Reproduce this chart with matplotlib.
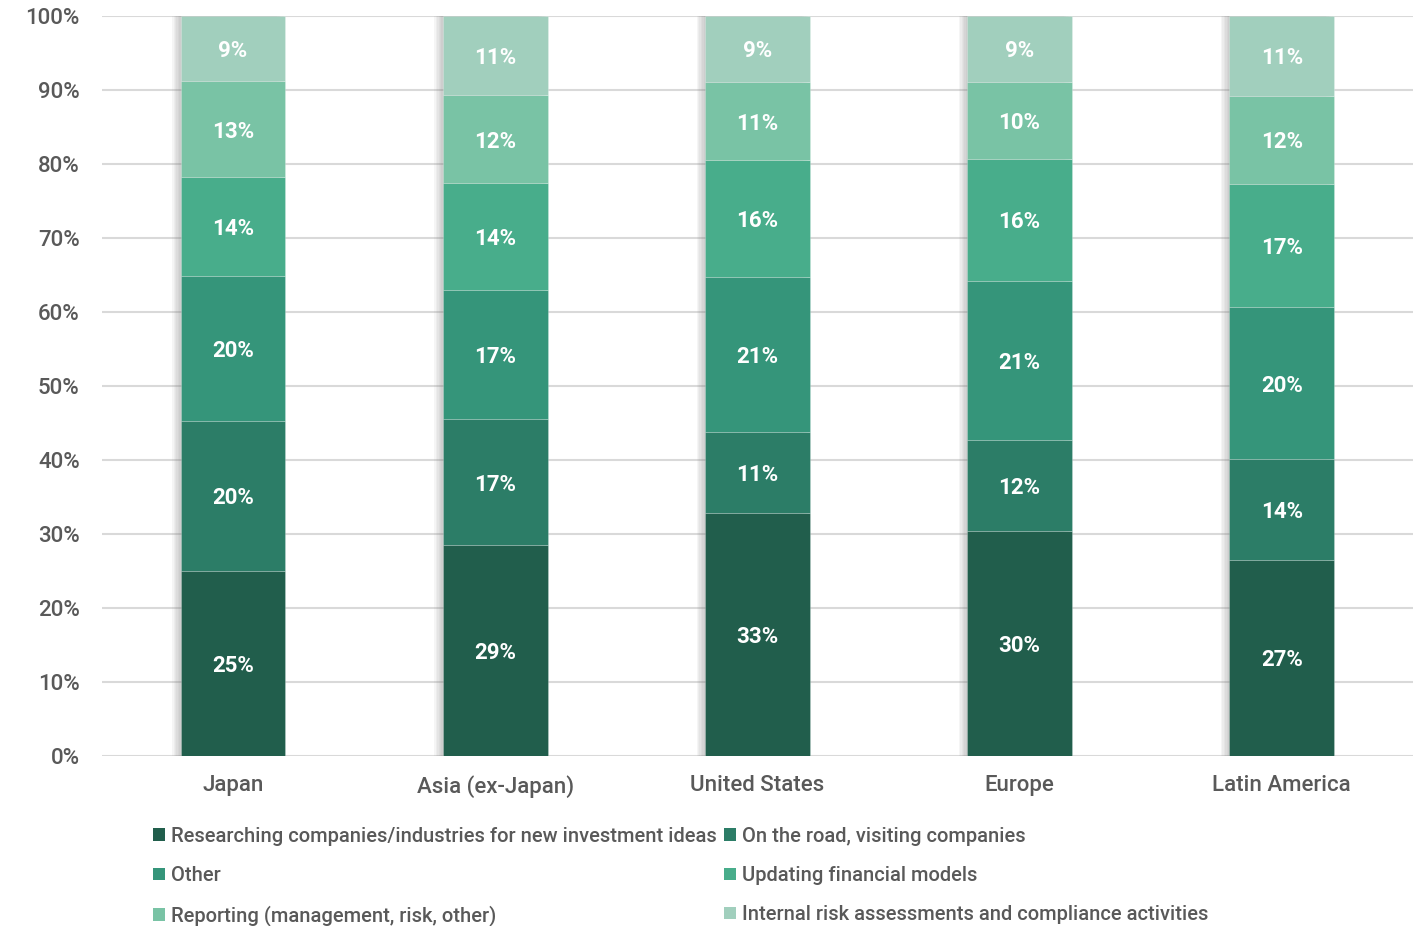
import matplotlib.pyplot as plt
import matplotlib.patheffects as pe
import numpy as np

regions = ['Japan', 'Asia (ex-Japan)', 'United States', 'Europe', 'Latin America']

series_names = [
    'Researching companies/industries for new investment ideas',
    'On the road, visiting companies',
    'Other',
    'Updating financial models',
    'Reporting (management, risk, other)',
    'Internal risk assessments and compliance activities',
]

# segment heights (bottom -> top)
researching = [25.0, 28.5, 32.8, 30.4, 26.5]
on_the_road = [20.3, 17.0, 11.0, 12.3, 13.6]
other       = [19.6, 17.5, 20.9, 21.5, 20.6]
updating    = [13.3, 14.4, 15.8, 16.5, 16.6]
reporting   = [13.0, 11.9, 10.6, 10.4, 11.9]
internal    = [8.8, 10.7, 8.9, 8.9, 10.8]

# printed labels
labels = [
    ['25%', '29%', '33%', '30%', '27%'],
    ['20%', '17%', '11%', '12%', '14%'],
    ['20%', '17%', '21%', '21%', '20%'],
    ['14%', '14%', '16%', '16%', '17%'],
    ['13%', '12%', '11%', '10%', '12%'],
    ['9%', '11%', '9%', '9%', '11%'],
]

colors = ['#215E4C', '#2C7D67', '#35957A', '#48AD8B', '#79C3A5', '#A1CFBD']
text_grey = '#595959'

plt.rcParams['font.family'] = ['Roboto', 'DejaVu Sans']

fig = plt.figure(figsize=(14.2, 9.26), dpi=100)
ax = fig.add_axes([0.0718, 0.1836, 0.9232, 0.7991])

x = np.arange(len(regions))
data = [researching, on_the_road, other, updating, reporting, internal]
bottom = np.zeros(len(regions))
handles = []

# soft shadow on the left side of each bar
shadow = [pe.SimplePatchShadow(offset=(-k, 0), shadow_rgbFace='#7f7f7f', alpha=0.07)
          for k in range(1, 7)] + [pe.Normal()]

for i, vals in enumerate(data):
    vals = np.array(vals)
    bars = ax.bar(x, vals, bottom=bottom, width=0.4, color=colors[i],
                  edgecolor=(1, 1, 1, 0.25), linewidth=0.6, zorder=3,
                  label=series_names[i])
    for b in bars:
        b.set_path_effects(shadow)
    handles.append(bars)
    for j in range(len(regions)):
        ax.text(x[j], bottom[j] + vals[j] / 2, labels[i][j], ha='center',
                va='center_baseline', color='white', fontsize=16,
                fontweight='bold', zorder=4)
    bottom += vals

ax.set_xlim(-0.5, 4.5)
ax.set_ylim(0, 100)
ax.set_yticks(np.arange(0, 101, 10))
ax.set_yticklabels([f'{v}%' for v in range(0, 101, 10)])
ax.set_xticks(x)
ax.set_xticklabels(regions)
ax.yaxis.grid(True, color='#D9D9D9', linewidth=1.5, zorder=0)
ax.set_axisbelow(True)
for s in ax.spines.values():
    s.set_visible(False)
ax.tick_params(axis='both', length=0, labelsize=16, labelcolor=text_grey)
ax.tick_params(axis='x', pad=14)
ax.tick_params(axis='y', pad=16)
for t in ax.get_xticklabels() + ax.get_yticklabels():
    t.set_fontweight('medium')

order = [0, 2, 4, 1, 3, 5]
leg = fig.legend([handles[k] for k in order], [series_names[k] for k in order],
                 ncol=2, loc='upper left', bbox_to_anchor=(0.108, 0.107),
                 frameon=False, fontsize=14.5, handlelength=0.6, handleheight=0.6,
                 handletextpad=0.3, labelspacing=1.0, columnspacing=0.35,
                 borderaxespad=0, borderpad=0)
for t in leg.get_texts():
    t.set_color(text_grey)
    t.set_fontweight('medium')
for h in leg.legend_handles:
    h.set_path_effects([])
    h.set_edgecolor('none')

fig.savefig('out.png', dpi=100)
